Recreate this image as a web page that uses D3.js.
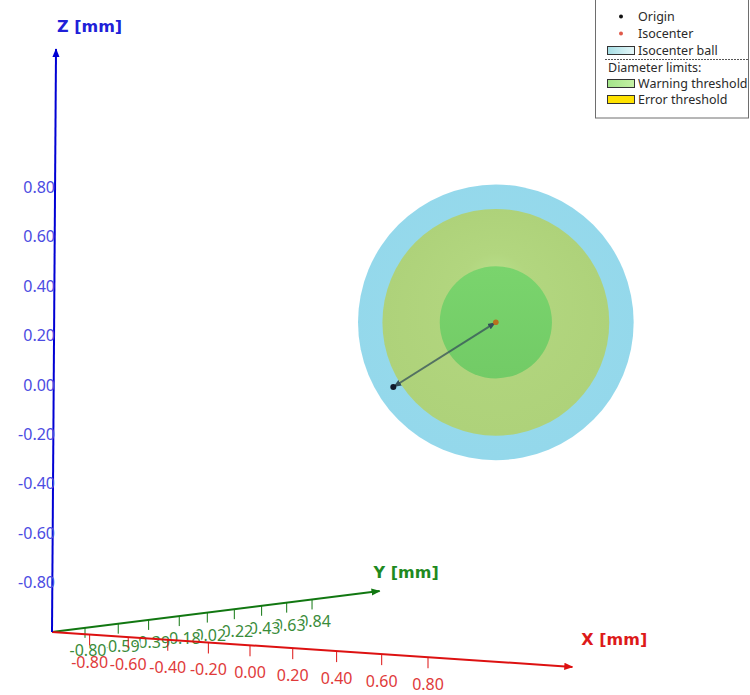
<!DOCTYPE html>
<html>
<head>
<meta charset="utf-8">
<script src="https://cdn.jsdelivr.net/npm/d3@7"></script>
<style>
  body { margin: 0; background: #fff; }
  svg { display: block; }
</style>
</head>
<body>
<div id="chart"></div>
<script>
// tick values along each axis, in mm
const xTicks = [-0.80, -0.60, -0.40, -0.20, 0.00, 0.20, 0.40, 0.60, 0.80];
const yTicks = [-0.80, -0.59, -0.39, -0.18, 0.02, 0.22, 0.43, 0.63, 0.84];
const zTicks = [-0.80, -0.60, -0.40, -0.20, 0.00, 0.20, 0.40, 0.60, 0.80];

// axes start at the -1 corner and run a bit past 1
const axisStart = -1.0;
const axisEnd = [1.39, 1.44, 1.36];

// points (x, y, z) in mm
const originPoint = [0.00, 0.00, 0.00];
const isocenterPoint = [0.50, 0.00, 0.26];

// spheres round the isocenter, drawn biggest first
const sphereNames = ["Isocenter ball", "Error threshold", "Warning threshold"];
const sphereDiameters = [1.13, 0.93, 0.46];

const legendNames = ["Origin", "Isocenter", "Isocenter ball", "Diameter limits:", "Warning threshold", "Error threshold"];

const width = 750, height = 695;

const svg = d3.select("#chart")
    .append("svg")
    .attr("width", width)
    .attr("height", height);

const defs = svg.append("defs");

// mm -> distance from the corner, one scale for each axis
const sx = d3.scaleLinear().domain([-1, 1]).range([0, 2]);
const sy = d3.scaleLinear().domain([-1, 1]).range([0, 2]);
const sz = d3.scaleLinear().domain([-1, 1]).range([0, 2]);

// simple perspective camera, fitted to the view
const cam = {
    o: [52, 632],
    ax: [182.7, -26.2],
    ay: [173.9, 44.9],
    az: [1.7, -247],
    persp: [-0.0612, 0.1044, 0]
};

function project(p) {
    const u = sx(p[0]), v = sy(p[1]), w = sz(p[2]);
    const den = 1 + cam.persp[0] * u + cam.persp[1] * v + cam.persp[2] * w;
    return [
        (cam.o[0] + cam.ax[0] * u + cam.ay[0] * v + cam.az[0] * w) / den,
        (cam.o[1] + cam.ax[1] * u + cam.ay[1] * v + cam.az[1] * w) / den,
        den
    ];
}

const line = d3.line();
const tickFont = "'Noto Sans', sans-serif";
const tickSize = 16;

function arrowMarker(id, color) {
    defs.append("marker")
        .attr("id", id)
        .attr("viewBox", "0 0 10 10")
        .attr("refX", 9).attr("refY", 5)
        .attr("markerWidth", 4.5).attr("markerHeight", 4.5)
        .attr("orient", "auto")
        .append("path")
        .attr("d", "M0,1 L10,5 L0,9 Z")
        .attr("fill", color);
}
arrowMarker("arX", "#dd1111");
arrowMarker("arY", "#117711");
arrowMarker("arZ", "#0000d4");

// ---- spheres
const isoP = project(isocenterPoint);
const pxPerMm = Math.hypot(cam.az[0], cam.az[1]) / isoP[2];

const gBall = defs.append("radialGradient").attr("id", "gBall")
    .attr("cx", "50%").attr("cy", "45%").attr("r", "55%");
gBall.append("stop").attr("offset", "0%").attr("stop-color", "#98dbec");
gBall.append("stop").attr("offset", "100%").attr("stop-color", "#94d8eb");

const gErr = defs.append("radialGradient").attr("id", "gErr")
    .attr("cx", "50%").attr("cy", "50%").attr("fx", "50%").attr("fy", "28%").attr("r", "50%");
gErr.append("stop").attr("offset", "0%").attr("stop-color", "#b8de89");
gErr.append("stop").attr("offset", "30%").attr("stop-color", "#b2d67f");
gErr.append("stop").attr("offset", "100%").attr("stop-color", "#aed27a");

const gWarn = defs.append("linearGradient").attr("id", "gWarn")
    .attr("x1", 0).attr("y1", 0).attr("x2", 0).attr("y2", 1);
gWarn.append("stop").attr("offset", "0%").attr("stop-color", "#7ad46d");
gWarn.append("stop").attr("offset", "100%").attr("stop-color", "#72cb66");

const sphereFill = ["url(#gBall)", "url(#gErr)", "url(#gWarn)"];

svg.append("g")
    .selectAll("circle")
    .data(sphereDiameters)
    .join("circle")
    .attr("cx", isoP[0])
    .attr("cy", isoP[1])
    .attr("r", d => d / 2 * pxPerMm)
    .attr("fill", (d, i) => sphereFill[i]);

// line from origin to isocenter
const orgP = project(originPoint);
defs.append("marker")
    .attr("id", "arL")
    .attr("viewBox", "0 0 10 10")
    .attr("refX", 10).attr("refY", 5)
    .attr("markerWidth", 4).attr("markerHeight", 4)
    .attr("orient", "auto-start-reverse")
    .append("path")
    .attr("d", "M0,1 L10,5 L0,9 Z")
    .attr("fill", "#34505a");

svg.append("path")
    .attr("d", line([[orgP[0], orgP[1]], [isoP[0], isoP[1]]]))
    .attr("stroke", "#34505a")
    .attr("stroke-opacity", 0.75)
    .attr("stroke-width", 2)
    .attr("marker-start", "url(#arL)")
    .attr("marker-end", "url(#arL)");

svg.append("circle").attr("cx", orgP[0]).attr("cy", orgP[1]).attr("r", 3).attr("fill", "#111a2c");
svg.append("circle").attr("cx", isoP[0]).attr("cy", isoP[1]).attr("r", 2.8).attr("fill", "#b8701e");

// ---- Y axis (green)
const yStart = project([axisStart, axisStart, axisStart]);
const yEnd = project([axisStart, axisEnd[1], axisStart]);
const gy = svg.append("g");
gy.append("path")
    .attr("d", line([[yStart[0], yStart[1]], [yEnd[0], yEnd[1]]]))
    .attr("stroke", "#117711").attr("stroke-width", 2)
    .attr("marker-end", "url(#arY)");
gy.selectAll("line")
    .data(yTicks)
    .join("line")
    .each(function (d) {
        const p = project([axisStart, d, axisStart]);
        d3.select(this).attr("x1", p[0]).attr("y1", p[1]).attr("x2", p[0]).attr("y2", p[1] + 10);
    })
    .attr("stroke", "#117711").attr("stroke-width", 1);
gy.selectAll("text")
    .data(yTicks.slice().reverse())
    .join("text")
    .attr("x", d => project([axisStart, d, axisStart])[0] + 3)
    .attr("y", d => project([axisStart, d, axisStart])[1] + 28)
    .attr("text-anchor", "middle")
    .attr("font-family", tickFont)
    .attr("font-size", tickSize)
    .attr("fill", "#3a8c3a")
    .attr("stroke", "#fff").attr("stroke-width", 3)
    .attr("paint-order", "stroke")
    .text(d => d.toFixed(2));
gy.append("text")
    .attr("x", yEnd[0] - 6).attr("y", yEnd[1] - 13)
    .attr("font-family", "'DejaVu Sans', sans-serif")
    .attr("font-weight", "bold").attr("font-size", 16)
    .attr("fill", "#1f8a1f")
    .text("Y [mm]");

// ---- X axis (red)
const xEnd = project([axisEnd[0], axisStart, axisStart]);
const gx = svg.append("g");
gx.append("path")
    .attr("d", line([[yStart[0], yStart[1]], [xEnd[0], xEnd[1]]]))
    .attr("stroke", "#dd1111").attr("stroke-width", 2)
    .attr("marker-end", "url(#arX)");
gx.selectAll("line")
    .data(xTicks)
    .join("line")
    .each(function (d) {
        const p = project([d, axisStart, axisStart]);
        d3.select(this).attr("x1", p[0]).attr("y1", p[1]).attr("x2", p[0]).attr("y2", p[1] + 11);
    })
    .attr("stroke", "#dd1111").attr("stroke-width", 1);
gx.selectAll("text")
    .data(xTicks)
    .join("text")
    .attr("x", d => project([d, axisStart, axisStart])[0])
    .attr("y", d => project([d, axisStart, axisStart])[1] + 33)
    .attr("text-anchor", "middle")
    .attr("font-family", tickFont)
    .attr("font-size", tickSize)
    .attr("fill", "#e03a3a")
    .text(d => d.toFixed(2));
gx.append("text")
    .attr("x", xEnd[0] + 9).attr("y", xEnd[1] - 22)
    .attr("font-family", "'DejaVu Sans', sans-serif")
    .attr("font-weight", "bold").attr("font-size", 16)
    .attr("fill", "#dd1a1a")
    .text("X [mm]");

// ---- Z axis (blue)
const zEnd = project([axisStart, axisStart, axisEnd[2]]);
const gz = svg.append("g");
gz.append("path")
    .attr("d", line([[yStart[0], yStart[1]], [zEnd[0], zEnd[1]]]))
    .attr("stroke", "#0000d4").attr("stroke-width", 2)
    .attr("marker-end", "url(#arZ)");
gz.selectAll("text")
    .data(zTicks)
    .join("text")
    .attr("x", 55)
    .attr("y", d => project([axisStart, axisStart, d])[1])
    .attr("dy", "0.35em")
    .attr("text-anchor", "end")
    .attr("font-family", tickFont)
    .attr("font-size", tickSize)
    .attr("fill", "#4c4ce2")
    .text(d => d.toFixed(2));
gz.append("text")
    .attr("x", zEnd[0] + 1).attr("y", zEnd[1] - 17)
    .attr("font-family", "'DejaVu Sans', sans-serif")
    .attr("font-weight", "bold").attr("font-size", 16)
    .attr("fill", "#2020d8")
    .text("Z [mm]");

// ---- legend
const lg = svg.append("g").attr("font-family", tickFont).attr("font-size", 12.5).attr("fill", "#2a2a2a");
lg.append("rect").attr("x", 595.5).attr("y", -1).attr("width", 153).attr("height", 119)
    .attr("fill", "#fff").attr("stroke", "#6e6e6e");

const swBall = defs.append("linearGradient").attr("id", "swBall");
swBall.append("stop").attr("offset", "0%").attr("stop-color", "#a6dfe6");
swBall.append("stop").attr("offset", "100%").attr("stop-color", "#e6f7f8");
const swWarn = defs.append("linearGradient").attr("id", "swWarn");
swWarn.append("stop").attr("offset", "0%").attr("stop-color", "#a4e58a");
swWarn.append("stop").attr("offset", "100%").attr("stop-color", "#c4f0a4");

const rowY = [20.5, 37.5, 54.5, 72, 88, 104];
lg.append("circle").attr("cx", 621).attr("cy", 16.5).attr("r", 2).attr("fill", "#111");
lg.append("circle").attr("cx", 621).attr("cy", 33.5).attr("r", 2).attr("fill", "#e05a4a");
lg.append("rect").attr("x", 607.5).attr("y", 46.5).attr("width", 27).attr("height", 8)
    .attr("fill", "url(#swBall)").attr("stroke", "#333");
lg.append("line").attr("x1", 605).attr("x2", 748).attr("y1", 59.5).attr("y2", 59.5)
    .attr("stroke", "#555").attr("stroke-dasharray", "2,1");
lg.append("rect").attr("x", 607.5).attr("y", 79.5).attr("width", 27).attr("height", 8)
    .attr("fill", "url(#swWarn)").attr("stroke", "#333");
lg.append("rect").attr("x", 607.5).attr("y", 95.5).attr("width", 27).attr("height", 8)
    .attr("fill", "#ffe200").attr("stroke", "#333");

lg.selectAll("text.item")
    .data(legendNames)
    .join("text")
    .attr("class", "item")
    .attr("x", (d, i) => i === 3 ? 608 : 638)
    .attr("y", (d, i) => rowY[i])
    .text(d => d);
</script>
</body>
</html>
